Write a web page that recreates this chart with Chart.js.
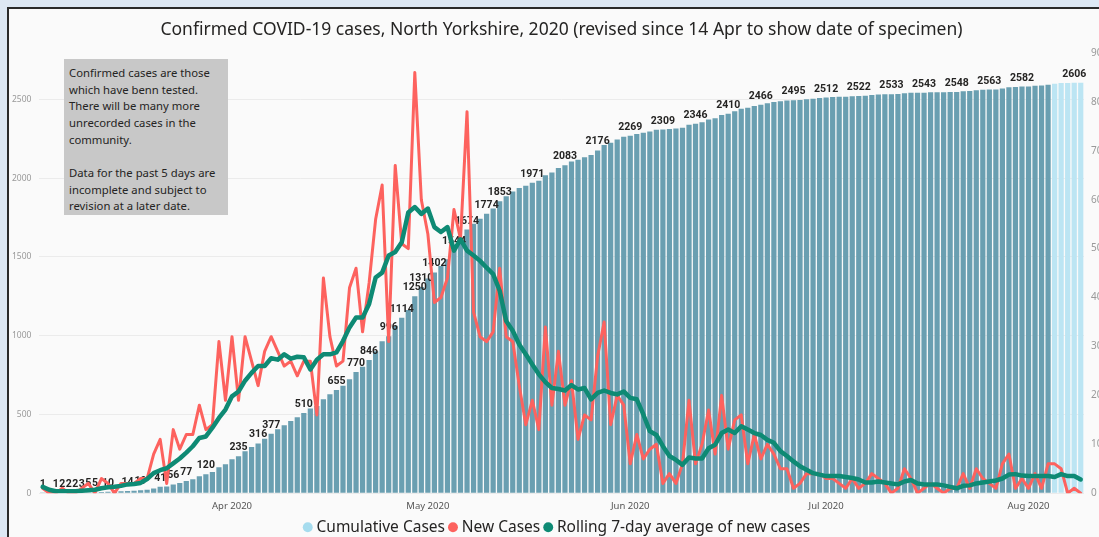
<!DOCTYPE html>
<html>
<head>
<meta charset="utf-8">
<script src="https://cdn.jsdelivr.net/npm/chart.js@4.4.1/dist/chart.umd.min.js"></script>
<style>
html,body{margin:0;padding:0;width:1099px;height:537px;overflow:hidden;background:#dde8f4;}
#panel{position:absolute;left:7px;top:7px;width:1200px;height:600px;border-left:2px solid #2b2b2b;border-top:2px solid #2b2b2b;background:#fafafa;}
#wrap{position:absolute;left:0;top:0;width:1099px;height:545px;}
#note{position:absolute;left:64px;top:59px;width:164px;height:156px;background:#c8c8c8;box-sizing:border-box;padding:6px 0 0 5px;font-family:'Noto Sans',sans-serif;font-size:11.3px;line-height:16.67px;color:#252423;}
#note div{white-space:nowrap;height:16.67px;}
</style>
</head>
<body>
<div id="panel"></div>
<div id="wrap"><canvas id="c" width="1099" height="545"></canvas></div>
<div id="note">
<div>Confirmed cases are those</div>
<div>which have benn tested.</div>
<div>There will be many more</div>
<div>unrecorded cases in the</div>
<div>community.</div>
<div></div>
<div>Data for the past 5 days are</div>
<div>incomplete and subject to</div>
<div>revision at a later date.</div>
</div>
<script>
// ---------- data ----------
const startDate = '2020-03-03';
const cumulativeCases = [
1,1,1,2,2,2,3,5,5,8,
10,10,12,14,16,19,22,30,41,43,
56,65,77,89,107,120,134,165,184,216,
235,267,294,316,345,377,406,432,459,483,
510,537,553,597,629,655,682,724,770,803,
846,902,965,996,1063,1114,1164,1250,1310,1363,
1402,1442,1486,1544,1596,1674,1711,1743,1774,1807,
1853,1885,1916,1938,1952,1971,1984,2018,2036,2065,
2083,2106,2117,2133,2148,2176,2211,2225,2245,2263,
2269,2281,2288,2297,2307,2309,2313,2315,2321,2340,
2346,2356,2373,2381,2401,2410,2425,2441,2447,2459,
2466,2476,2484,2489,2494,2495,2497,2501,2505,2509,
2512,2515,2517,2518,2521,2522,2524,2528,2531,2533,
2533,2534,2539,2542,2542,2543,2545,2546,2546,2547,
2548,2552,2553,2558,2561,2563,2564,2570,2578,2579,
2582,2583,2587,2588,2594,2600,2605,2605,2606,2606];
const newCases = [
1,0,0,1,0,0,1,2,0,3,
2,0,2,2,2,3,3,8,11,2,
13,9,12,12,18,13,14,31,19,32,
19,32,27,22,29,32,29,26,27,24,
27,27,16,44,32,26,27,42,46,33,
43,56,63,31,67,51,50,86,60,53,
39,40,44,58,52,78,37,32,31,33,
46,32,31,22,14,19,13,34,18,29,
18,23,11,16,15,28,35,14,20,18,
6,12,7,9,10,2,4,2,6,19,
6,10,17,8,20,9,15,16,6,12,
7,10,8,5,5,1,2,4,4,4,
3,3,2,1,3,1,2,4,3,2,
0,1,5,3,0,1,2,1,0,1,
1,4,1,5,3,2,1,6,8,1,
3,1,4,1,6,6,5,0,1,0];
const rollingAvg = [
1.3,0.7,0.4,0.4,0.4,0.4,0.5,0.6,0.7,1.0,
1.2,1.3,1.5,1.8,1.9,2.1,2.9,4.1,4.7,5.1,
6.1,7.1,8.3,9.6,11.3,11.6,13.4,15.4,17.1,19.8,
20.8,23.0,24.6,26.0,26.0,27.6,27.3,28.4,27.5,27.9,
27.8,25.3,27.3,28.4,28.4,28.8,31.1,33.9,35.9,35.9,
38.7,44.1,45.1,48.6,49.3,51.3,57.4,58.5,57.1,58.2,
54.4,53.4,54.4,49.6,51.9,49.6,48.6,47.5,46.1,44.8,
41.4,35.2,33.2,30.4,28.4,26.3,24.3,22.7,21.5,21.3,
21.0,22.1,21.2,21.5,19.2,20.5,21.0,20.5,20.2,20.8,
19.5,19.2,16.1,12.7,11.9,9.6,7.6,6.8,5.8,7.3,
7.1,7.1,9.2,9.9,12.3,13.0,12.3,13.7,13.0,12.3,
11.9,10.9,10.3,8.6,7.6,6.5,5.5,4.8,4.1,3.8,
3.5,3.5,3.5,3.3,3.1,2.8,2.2,2.2,2.4,2.2,
2.0,1.8,2.4,2.7,2.0,1.8,1.8,1.8,1.6,1.3,
1.0,1.5,1.6,2.0,2.2,2.4,2.6,3.0,3.8,3.9,
3.6,3.5,3.5,3.5,3.5,3.3,3.9,3.5,3.5,2.8];
const labelDays = [0,2,3,4,5,6,7,8,10,13,15,18,20,22,25,30,33,35,40,45,48,50,53,55,57,58,60,63,65,68,70,75,80,85,90,95,100,105,110,115,120,125,130,135,140,145,150,158];
const monthTickDates = ['2020-04-01','2020-05-01','2020-06-01','2020-07-01','2020-08-01'];
const monthTickLabels = ['Apr 2020','May 2020','Jun 2020','Jul 2020','Aug 2020'];
const leftTicks = [0,500,1000,1500,2000,2500];
const rightTicks = [0,10,20,30,40,50,60,70,80,90];
const seriesNames = ['Cumulative Cases','New Cases','Rolling 7-day average of new cases'];
const incompleteDays = 5;

// ---------- categories (daily dates) ----------
const days = [];
(function(){
  const d0 = new Date(startDate + 'T00:00:00Z').getTime();
  for (let i = 0; i < cumulativeCases.length; i++) {
    days.push(new Date(d0 + i * 86400000).toISOString().slice(0, 10));
  }
})();

const COL_BAR = '#6a9fb1', COL_BAR_LIGHT = '#bce5f3', COL_LEG_BAR = '#a6dcee';
const COL_NEW = '#fd625e', COL_AVG = '#0e8a74';
const FONT = "'Noto Sans', sans-serif";

const barLabels = {
  id: 'barLabels',
  afterDatasetDraw(chart, args) {
    if (args.index !== 0) return;
    const ctx = chart.ctx, meta = args.meta;
    ctx.save();
    ctx.font = "bold 10.5px Roboto, sans-serif";
    ctx.fillStyle = '#252423';
    ctx.textAlign = 'center';
    ctx.textBaseline = 'alphabetic';
    labelDays.forEach(i => {
      const el = meta.data[i];
      ctx.fillText(String(cumulativeCases[i]), el.x, el.y - 6);
    });
    ctx.restore();
  }
};
const boxShift = {
  id: 'boxShift',
  afterLayout(chart) {
    const l = chart.legend; if (l) { l.left += 9; l.right += 9; }
    const t = chart.titleBlock; if (t) { t.left += 12; t.right += 12; }
  }
};

new Chart(document.getElementById('c'), {
  data: {
    labels: days,
    datasets: [
      { type: 'bar', label: seriesNames[0], data: cumulativeCases, yAxisID: 'y', order: 3,
        backgroundColor: c => c.dataIndex >= cumulativeCases.length - incompleteDays ? COL_BAR_LIGHT : COL_BAR,
        barPercentage: 0.8, categoryPercentage: 1 },
      { type: 'line', label: seriesNames[1], data: newCases, yAxisID: 'y2', order: 2,
        borderColor: COL_NEW, backgroundColor: COL_NEW, borderWidth: 3, pointRadius: 0, tension: 0,
        borderJoinStyle: 'round', borderCapStyle: 'round' },
      { type: 'line', label: seriesNames[2], data: rollingAvg, yAxisID: 'y2', order: 1,
        borderColor: COL_AVG, backgroundColor: COL_AVG, borderWidth: 4.5, pointRadius: 0, tension: 0,
        borderJoinStyle: 'round', borderCapStyle: 'round' }
    ]
  },
  options: {
    responsive: false,
    animation: false,
    devicePixelRatio: 1,
    layout: { padding: 0 },
    plugins: {
      tooltip: { enabled: false },
      title: { display: true, text: 'Confirmed COVID-19 cases, North Yorkshire, 2020 (revised since 14 Apr to show date of specimen)',
        color: '#252423', font: { family: FONT, size: 17.5, weight: 'normal' }, padding: { top: 19.5, bottom: 12.5 } },
      legend: { position: 'bottom', align: 'center',
        labels: { usePointStyle: true, boxWidth: 2, boxHeight: 7, padding: 7, color: '#252423',
          font: { family: FONT, size: 15.5 },
          generateLabels(chart) {
            const cols = [COL_LEG_BAR, COL_NEW, COL_AVG];
            return chart.data.datasets.map((d, i) => ({ text: d.label, fillStyle: cols[i], strokeStyle: cols[i],
              lineWidth: 0, pointStyle: 'circle', hidden: false, datasetIndex: i, fontColor: '#252423' }));
          } } }
    },
    scales: {
      x: { type: 'category', offset: true, grid: { display: false, drawTicks: false }, border: { display: false },
        ticks: { autoSkip: false, maxRotation: 0, minRotation: 0, padding: 7, color: '#555',
          font: { family: FONT, size: 9.5 },
          callback(v, i) { const k = monthTickDates.indexOf(days[i]); return k >= 0 ? monthTickLabels[k] : ''; } },
        afterFit(s) { s.height = 19.3; } },
      y: { position: 'left', min: 0, max: 2795, grid: { color: '#ebebeb', drawTicks: false }, border: { display: false },
        ticks: { padding: 8, color: '#999', font: { family: FONT, size: 8.5 }, callback: v => String(v) },
        afterBuildTicks(s) { s.ticks = leftTicks.map(v => ({ value: v })); },
        afterFit(s) { s.width = 39.4; } },
      y2: { position: 'right', min: 0, max: 90, grid: { display: false, drawTicks: false }, border: { display: false },
        ticks: { padding: 7, color: '#999', font: { family: FONT, size: 10 }, callback: v => String(v) },
        afterBuildTicks(s) { s.ticks = rightTicks.map(v => ({ value: v })); },
        afterFit(s) { s.width = 15; } }
    }
  },
  plugins: [barLabels, boxShift]
});
</script>
</body>
</html>
